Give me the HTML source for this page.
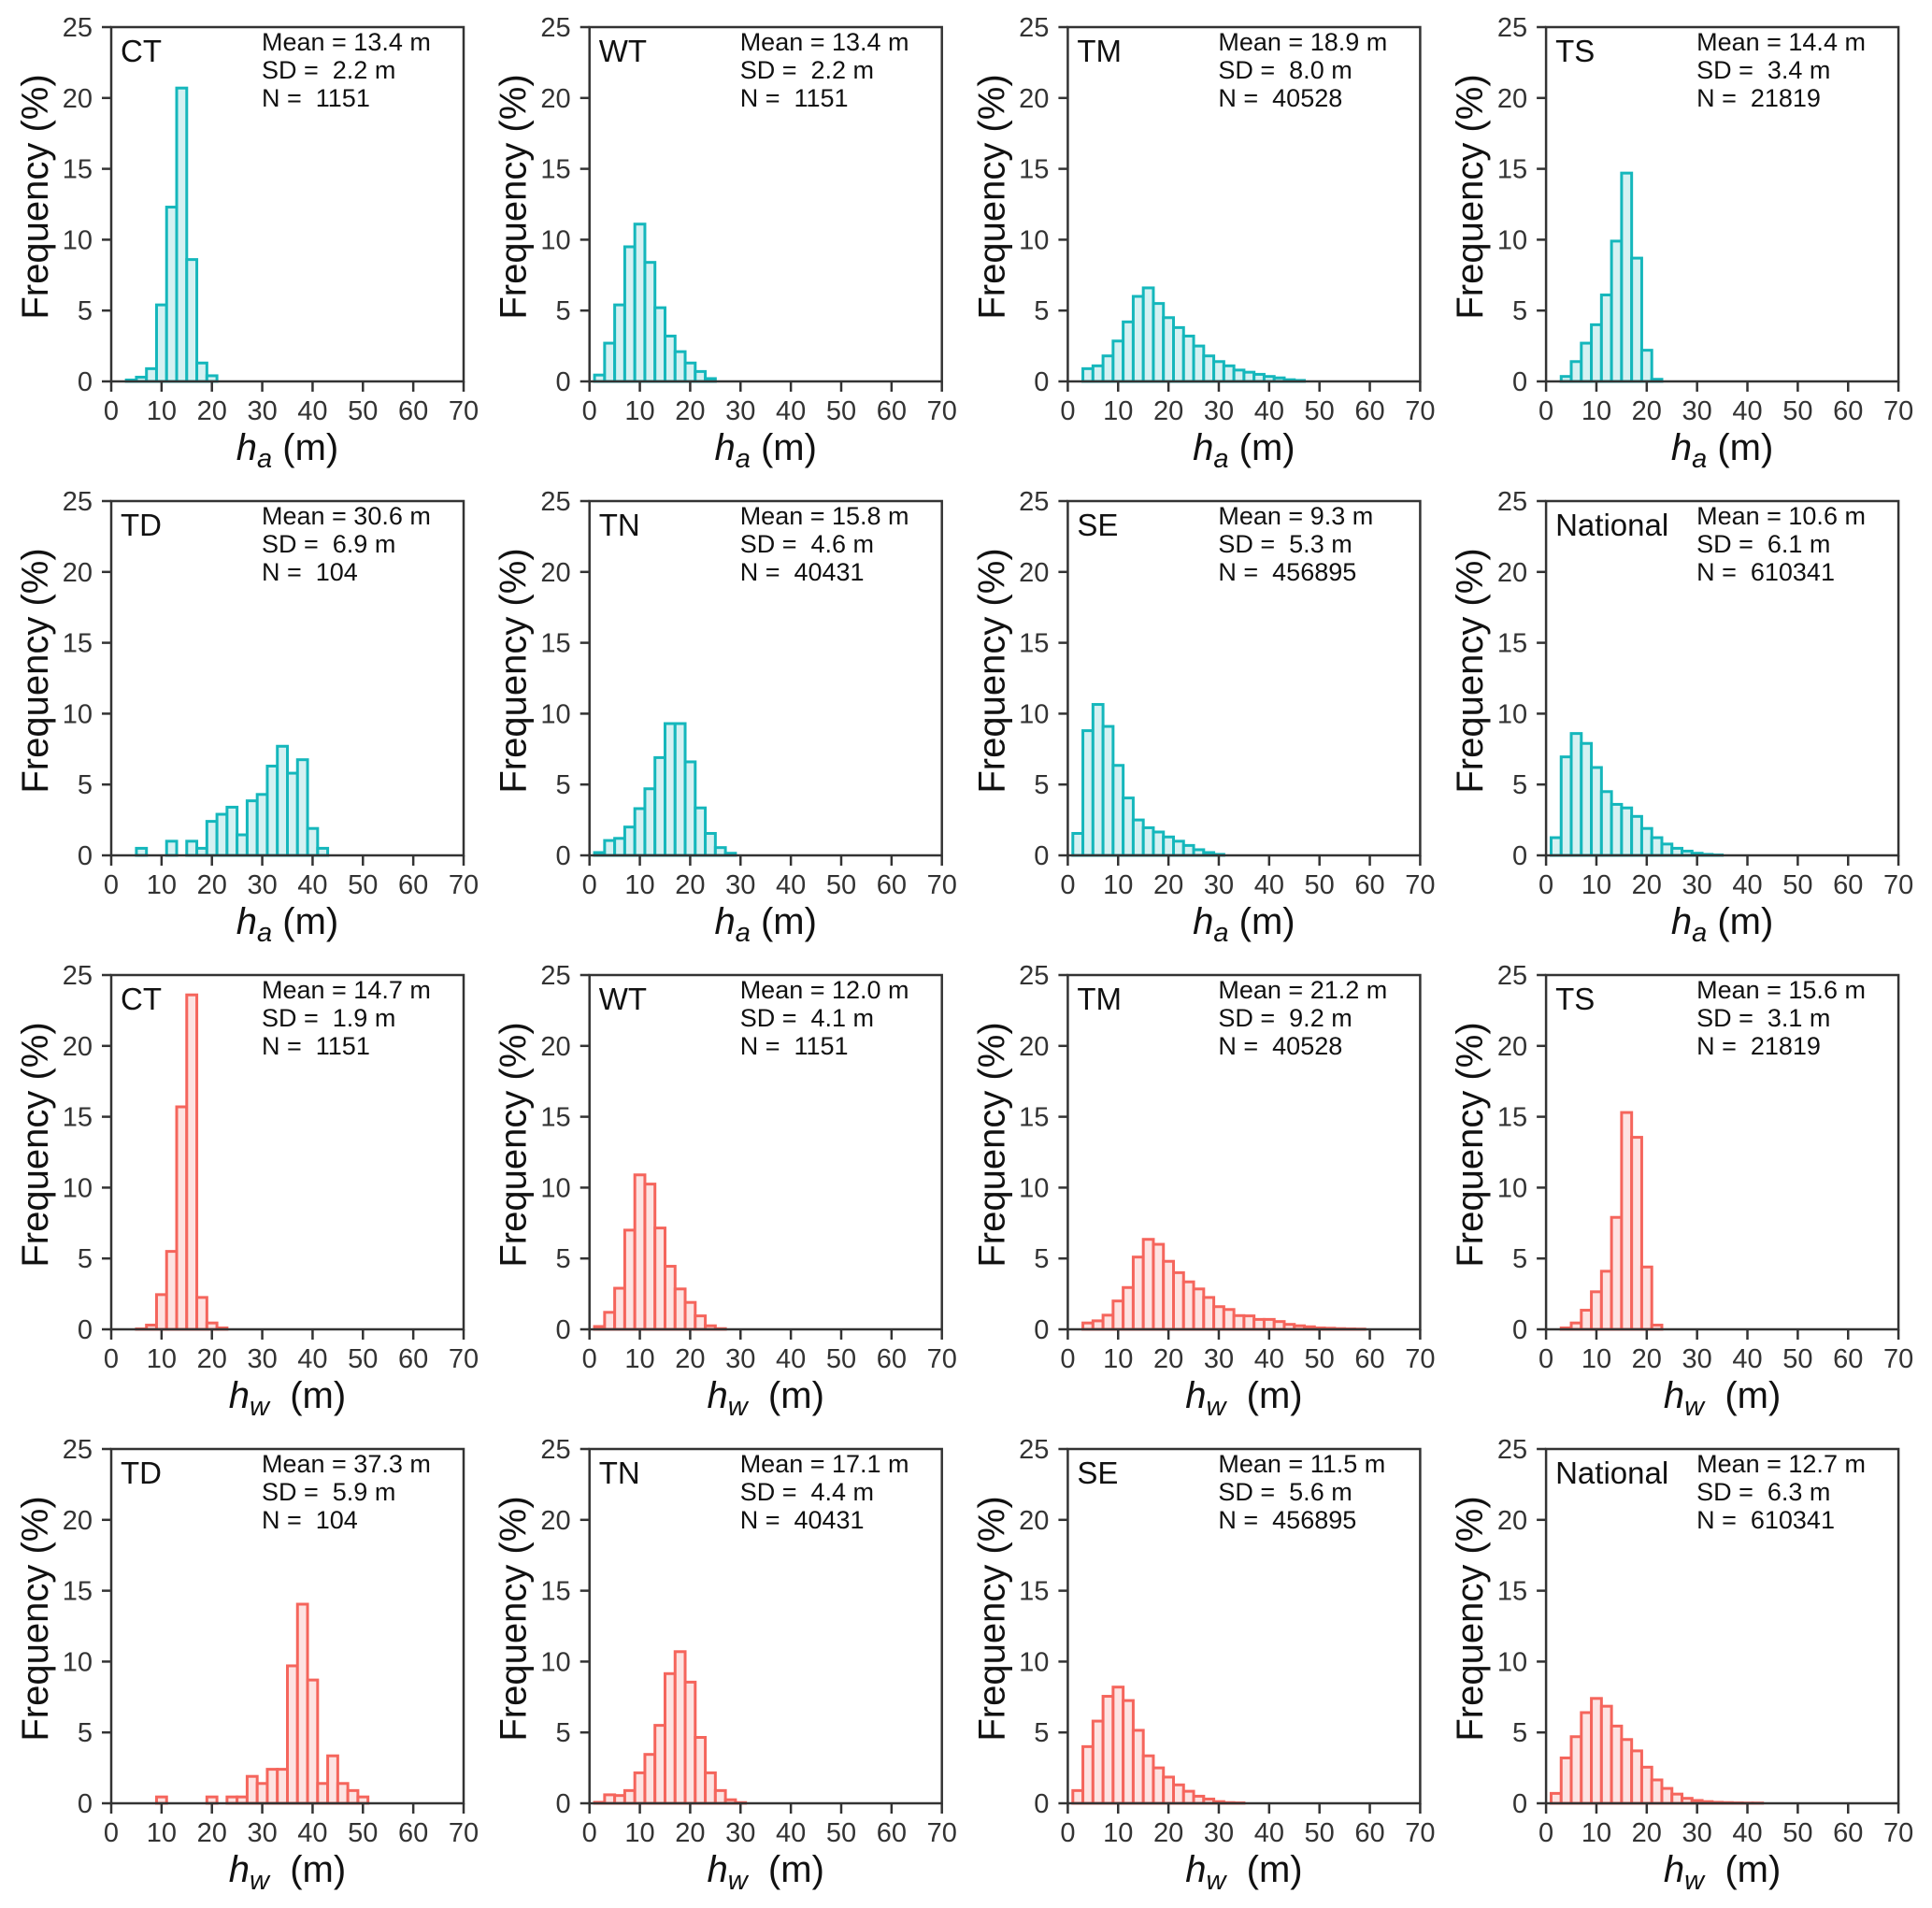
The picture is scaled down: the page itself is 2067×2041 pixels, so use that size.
<!DOCTYPE html>
<html>
<head>
<meta charset="utf-8">
<style>
  html,body{margin:0;padding:0;background:#fff;}
  svg{display:block;}
  text{font-family:"Liberation Sans", Arial, sans-serif;}
</style>
</head>
<body>
<svg id="fig" width="2067" height="2041" viewBox="0 0 2067 2041" xmlns="http://www.w3.org/2000/svg"></svg>
<script>
// ---- Data: bin start (m) and frequencies (%) with 2 m bins ----
const xTicks = [0, 10, 20, 30, 40, 50, 60, 70];
const yTicks = [0, 5, 10, 15, 20, 25];
const panelNames = ["CT","WT","TM","TS","TD","TN","SE","National"];
const meansA = ["13.4","13.4","18.9","14.4","30.6","15.8","9.3","10.6"];
const sdsA   = ["2.2","2.2","8.0","3.4","6.9","4.6","5.3","6.1"];
const meansW = ["14.7","12.0","21.2","15.6","37.3","17.1","11.5","12.7"];
const sdsW   = ["1.9","4.1","9.2","3.1","5.9","4.4","5.6","6.3"];
const counts = ["1151","1151","40528","21819","104","40431","456895","610341"];

const startCTa = 3;
const freqCTa = [0.1,0.3,0.9,5.4,12.3,20.7,8.6,1.3,0.4];
const startWTa = 1;
const freqWTa = [0.45,2.7,5.4,9.5,11.1,8.4,5.2,3.2,2.1,1.3,0.7,0.2];
const startTMa = 3;
const freqTMa = [0.9,1.1,1.8,2.85,4.2,6.0,6.6,5.5,4.5,3.8,3.2,2.5,1.8,1.4,1.1,0.8,0.65,0.5,0.35,0.25,0.12,0.07];
const startTSa = 3;
const freqTSa = [0.35,1.4,2.7,4.0,6.1,9.9,14.7,8.7,2.2,0.15];
const startTDa = 5;
const freqTDa = [0.5,0,0,1.0,0,1.0,0.5,2.4,2.9,3.4,1.45,3.85,4.3,6.3,7.7,5.8,6.75,1.9,0.5];
const startTNa = 1;
const freqTNa = [0.2,1.05,1.2,2.0,3.3,4.7,6.9,9.3,9.3,6.6,3.35,1.55,0.55,0.15];
const startSEa = 1;
const freqSEa = [1.55,8.8,10.65,9.1,6.35,4.05,2.5,1.95,1.65,1.3,1.0,0.7,0.4,0.2,0.07];
const startNATa = 1;
const freqNATa = [1.25,6.95,8.6,7.9,6.2,4.5,3.6,3.35,2.75,1.9,1.25,0.8,0.5,0.3,0.15,0.07,0.03];

const startCTw = 5;
const freqCTw = [0.03,0.3,2.45,5.5,15.7,23.6,2.25,0.45,0.1];
const startWTw = 1;
const freqWTw = [0.2,1.2,2.9,7.0,10.9,10.25,7.15,4.45,2.85,1.9,0.95,0.25,0.05];
const startTMw = 3;
const freqTMw = [0.45,0.6,1.0,2.0,2.95,5.1,6.35,6.0,4.8,4.0,3.35,2.85,2.25,1.6,1.4,0.97,0.95,0.7,0.7,0.55,0.35,0.25,0.18,0.1,0.08,0.05,0.03,0.02];
const startTSw = 3;
const freqTSw = [0.1,0.45,1.35,2.65,4.1,7.9,15.3,13.55,4.4,0.3];
const startTDw = 9;
const freqTDw = [0.45,0,0,0,0,0.45,0,0.45,0.45,1.9,1.4,2.4,2.4,9.7,14.05,8.7,1.4,3.35,1.4,0.9,0.45];
const startTNw = 1;
const freqTNw = [0.07,0.6,0.55,0.9,2.15,3.45,5.5,9.15,10.7,8.55,4.65,2.15,0.9,0.25,0.05];
const startSEw = 1;
const freqSEw = [0.9,4.0,5.8,7.55,8.2,7.25,5.15,3.35,2.5,1.85,1.3,0.85,0.5,0.3,0.12,0.05,0.03];
const startNATw = 1;
const freqNATw = [0.7,3.2,4.7,6.4,7.4,6.85,5.45,4.5,3.7,2.55,1.65,1.05,0.65,0.35,0.2,0.12,0.07,0.05,0.03,0.02,0.02];

const startsA = [startCTa,startWTa,startTMa,startTSa,startTDa,startTNa,startSEa,startNATa];
const freqsA  = [freqCTa,freqWTa,freqTMa,freqTSa,freqTDa,freqTNa,freqSEa,freqNATa];
const startsW = [startCTw,startWTw,startTMw,startTSw,startTDw,startTNw,startSEw,startNATw];
const freqsW  = [freqCTw,freqWTw,freqTMw,freqTSw,freqTDw,freqTNw,freqSEw,freqNATw];
const binWidth = 2;

// ---- Layout ----
const NS = "http://www.w3.org/2000/svg";
const svg = document.getElementById("fig");
const colLeft0 = 119, colPitch = 511.7, plotW = 377;
const rowTop0 = 29, rowPitch = 507, plotH = 379;
const xMax = 70, yMax = 25;

function mk(tag, attrs, parent, txt){
  const el = document.createElementNS(NS, tag);
  for (const k in attrs) el.setAttribute(k, attrs[k]);
  if (txt !== undefined) el.textContent = txt;
  parent.appendChild(el);
  return el;
}

function drawPanel(idx, row, col, name, mean, sd, n, start, freqs, isW){
  const L = colLeft0 + colPitch*col;
  const T = rowTop0 + rowPitch*row;
  const B = T + plotH, R = L + plotW;
  const xs = v => L + v/xMax*plotW;
  const ys = v => B - v/yMax*plotH;
  const stroke = isW ? "#f5655c" : "#15b7bc";
  const fill = isW ? "#fde3e2" : "#d5f1f2";
  const suffix = (isW ? "hw-" : "ha-") + name.toLowerCase();

  const g = mk("g", {}, svg);
  
  

  const bars = mk("g", {}, g);
  
  
  freqs.forEach((f, i) => {
    if (f <= 0) return;
    const x0 = xs(start + i*binWidth), x1 = xs(start + (i+1)*binWidth);
    const y = ys(f);
    const r = mk("rect", {x:x0, y:y, width:x1-x0, height:B-y, fill:fill, stroke:stroke, "stroke-width":3}, bars);
    
    
  });

  const frame = mk("rect", {x:L, y:T, width:plotW, height:plotH, fill:"none", stroke:"#333", "stroke-width":2.5}, g);
  
  

  xTicks.forEach(t => {
    const x = xs(t);
    const tk = mk("line", {x1:x, y1:B, x2:x, y2:B+11, stroke:"#333", "stroke-width":2.5}, g);
    
    
    const lb = mk("text", {x:x, y:B+41, "text-anchor":"middle", "font-size":29, fill:"#333"}, g, String(t));
    
    
  });
  yTicks.forEach(t => {
    const y = ys(t);
    const tk = mk("line", {x1:L-10, y1:y, x2:L, y2:y, stroke:"#333", "stroke-width":2.5}, g);
    
    
    const lb = mk("text", {x:L-20, y:y+10, "text-anchor":"end", "font-size":29, fill:"#333"}, g, String(t));
    
    
  });

  const cy = (T+B)/2 - 8, cx = L - 81;
  const yt = mk("text", {x:cx, y:cy, "text-anchor":"middle", "dominant-baseline":"central", "font-size":40, fill:"#111", transform:`rotate(-90 ${cx} ${cy})`}, g, "Frequency (%)");
  
  

  const xt = mk("text", {x:(L+R)/2, y:B+84, "text-anchor":"middle", "font-size":40, fill:"#111"}, g);
  
  
  mk("tspan", {"font-style":"italic"}, xt, "h");
  mk("tspan", {"font-style":"italic", "font-size":29, dy:8}, xt, isW ? "w" : "a");
  mk("tspan", {dy:-8}, xt, isW ? "\u00a0\u00a0(m)" : "\u00a0(m)");

  const pl = mk("text", {x:L+10, y:T+37, "font-size":33, fill:"#111"}, g, name);
  
  

  const sx = L + 161;
  const s1 = mk("text", {x:sx, y:T+25, "font-size":27, fill:"#111"}, g, "Mean = " + mean + " m");
  
  
  const s2 = mk("text", {x:sx, y:T+55, "font-size":27, fill:"#111"}, g, "SD =  " + sd + " m");
  
  
  s2.setAttribute('style', 'white-space:pre');
  const s3 = mk("text", {x:sx, y:T+85, "font-size":27, fill:"#111"}, g, "N =  " + n);
  
  
  s3.setAttribute('style', 'white-space:pre');
}

for (let i = 0; i < 8; i++){
  const row = Math.floor(i/4), col = i % 4;
  drawPanel(i, row, col, panelNames[i], meansA[i], sdsA[i], counts[i], startsA[i], freqsA[i], false);
  drawPanel(i, row+2, col, panelNames[i], meansW[i], sdsW[i], counts[i], startsW[i], freqsW[i], true);
}
</script>
</body>
</html>
